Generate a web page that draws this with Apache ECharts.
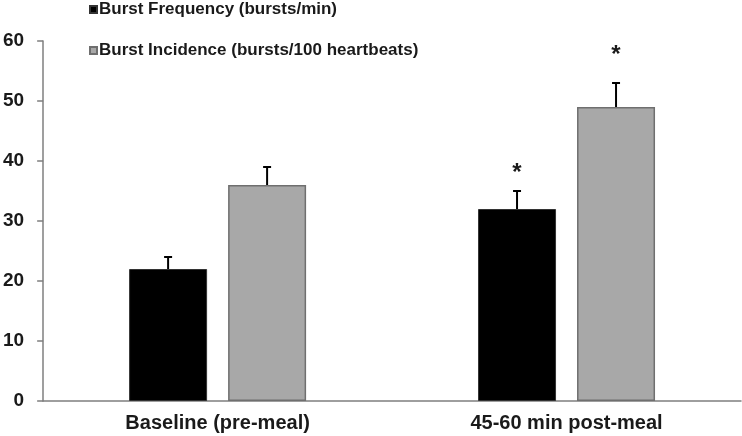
<!DOCTYPE html>
<html>
<head>
<meta charset="utf-8">
<script src="https://cdn.jsdelivr.net/npm/echarts@6/dist/echarts.min.js"></script>
<style>
html,body{margin:0;padding:0;background:#fff;}
#c{width:742px;height:436px;}
</style>
</head>
<body>
<div id="c"></div>
<script>
const categories = ['Baseline (pre-meal)', '45-60 min post-meal'];
const seriesNames = ['Burst Frequency (bursts/min)', 'Burst Incidence (bursts/100 heartbeats)'];
const freqValues = [22, 32];
const freqErrors = [2, 3];
const incValues = [36, 49];
const incErrors = [3, 4];
const freqMarks = ['', '*'];
const incMarks = ['', '*'];
const yTicks = [0, 10, 20, 30, 40, 50, 60];

const BAR_W = 78;
const BAR_GAP = 21;
const FONT = 'Liberation Sans, Arial, sans-serif';

function errorSeries(values, errors, marks, side, markOffset) {
  return {
    type: 'custom',
    silent: true,
    z: 5,
    data: values.map((v, i) => [i, v, v + errors[i], marks[i]]),
    renderItem: function (params, api) {
      const idx = api.value(0);
      const base = api.coord([idx, api.value(1)]);
      const top = api.coord([idx, api.value(2)]);
      const x = base[0] + side * (BAR_W + BAR_GAP) / 2;
      const children = [
        { type: 'line', shape: { x1: x, y1: base[1], x2: x, y2: top[1] }, style: { stroke: '#000', lineWidth: 2 } },
        { type: 'line', shape: { x1: x - 4, y1: top[1], x2: x + 4, y2: top[1] }, style: { stroke: '#000', lineWidth: 2 } }
      ];
      const mark = marks[params.dataIndex];
      if (mark) {
        children.push({
          type: 'text',
          style: {
            text: mark, x: x, y: top[1] - markOffset,
            align: 'center', verticalAlign: 'middle',
            font: 'bold 24px ' + FONT, fill: '#1a1a1a'
          }
        });
      }
      return { type: 'group', children: children };
    }
  };
}

const legendText = { fontFamily: FONT, fontWeight: 'bold', fontSize: 17, color: '#1a1a1a', padding: [0, 0, 0, -3] };

const chart = echarts.init(document.getElementById('c'));
chart.setOption({
  animation: false,
  backgroundColor: '#fff',
  grid: { left: 42, right: 1, top: 41, bottom: 35, containLabel: false },
  legend: [
    {
      data: [seriesNames[0]], left: 84, top: -4, itemWidth: 7, itemHeight: 7, itemGap: 4,
      icon: 'rect', textStyle: legendText
    },
    {
      data: [seriesNames[1]], left: 84, top: 37, itemWidth: 7, itemHeight: 7, itemGap: 4,
      icon: 'rect', textStyle: legendText
    }
  ],
  xAxis: {
    type: 'category',
    data: categories,
    axisLine: { lineStyle: { color: '#7f7f7f', width: 1.5 } },
    axisTick: { show: false },
    axisLabel: { fontFamily: FONT, fontWeight: 'bold', fontSize: 20, color: '#1a1a1a', margin: 12 }
  },
  yAxis: {
    type: 'value',
    min: yTicks[0], max: yTicks[yTicks.length - 1], interval: 10,
    axisLine: { show: true, lineStyle: { color: '#7f7f7f', width: 1.5 } },
    axisTick: { show: true, length: 6, lineStyle: { color: '#7f7f7f', width: 1.5 } },
    splitLine: { show: false },
    axisLabel: { fontFamily: FONT, fontWeight: 'bold', fontSize: 19, color: '#1a1a1a', margin: 19 }
  },
  series: [
    {
      name: seriesNames[0], type: 'bar', data: freqValues,
      barWidth: BAR_W, barGap: (BAR_GAP / BAR_W * 100) + '%',
      itemStyle: { color: '#000', borderColor: '#333', borderWidth: 1 }
    },
    {
      name: seriesNames[1], type: 'bar', data: incValues,
      barWidth: BAR_W,
      itemStyle: { color: '#a8a8a8', borderColor: '#6f6f6f', borderWidth: 1.5 }
    },
    errorSeries(freqValues, freqErrors, freqMarks, -1, 18),
    errorSeries(incValues, incErrors, incMarks, 1, 28)
  ]
});
</script>
</body>
</html>
